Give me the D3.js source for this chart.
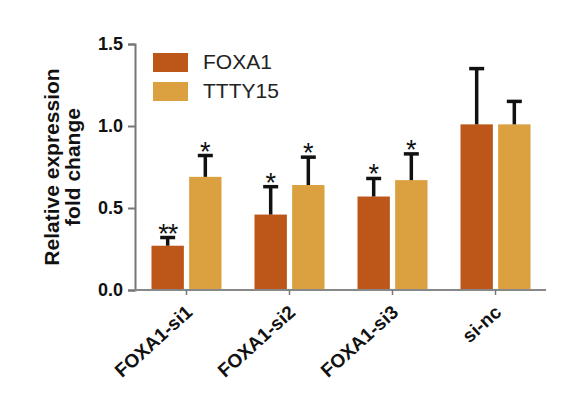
<!DOCTYPE html>
<html>
<head>
<meta charset="utf-8">
<script src="https://cdn.jsdelivr.net/npm/d3@7"></script>
<style>
  body { margin: 0; background: #fff; }
  svg { display: block; font-family: "Liberation Sans", Arial, sans-serif; }
</style>
</head>
<body>
<svg id="chart" width="569" height="397"></svg>
<script>
// data
const groups = ["FOXA1-si1", "FOXA1-si2", "FOXA1-si3", "si-nc"];
const series = ["FOXA1", "TTTY15"];
const foxa1Values = [0.27, 0.46, 0.57, 1.01];
const foxa1Errors = [0.05, 0.17, 0.11, 0.34];
const ttty15Values = [0.69, 0.64, 0.67, 1.01];
const ttty15Errors = [0.13, 0.17, 0.16, 0.14];
const foxa1Stars = ["**", "*", "*", ""];
const ttty15Stars = ["*", "*", "*", ""];
const yTicks = [0.0, 0.5, 1.0, 1.5];

const colors = { FOXA1: "#bd5719", TTTY15: "#dba040" };

let rows = [];
groups.forEach((g, i) => {
    rows.push({ group: g, key: "FOXA1", value: foxa1Values[i], err: foxa1Errors[i], star: foxa1Stars[i] });
    rows.push({ group: g, key: "TTTY15", value: ttty15Values[i], err: ttty15Errors[i], star: ttty15Stars[i] });
});

const svg = d3.select('#chart');

let x = d3.scaleBand().domain(groups).range([135, 547]);
let x1 = d3.scaleBand().domain(series).range([-35, 35]).paddingInner(0.14);
let y = d3.scaleLinear().domain([0, 1.5]).range([290, 44]);

let center = (g) => x(g) + x.bandwidth() / 2;

// bars
svg.append('g').selectAll('rect.bar').data(rows).join('rect')
    .classed('bar', true)
    .attr('x', d => center(d.group) + x1(d.key))
    .attr('y', d => y(d.value))
    .attr('width', x1.bandwidth())
    .attr('height', d => y(0) - y(d.value))
    .attr('fill', d => colors[d.key]);

// error bars (upper only) + significance stars
let errG = svg.append('g').attr('stroke', '#111').attr('stroke-width', 3.5);
rows.forEach(d => {
    let cx = center(d.group) + x1(d.key) + x1.bandwidth() / 2;
    let top = y(d.value + d.err);
    errG.append('line').attr('x1', cx).attr('x2', cx).attr('y1', y(d.value)).attr('y2', top);
    errG.append('line').attr('x1', cx - 7.5).attr('x2', cx + 7.5).attr('y1', top).attr('y2', top);
    if(d.star){
        svg.append('text')
            .attr('x', cx)
            .attr('y', top + 5)
            .attr('text-anchor', 'middle')
            .attr('font-size', 27)
            .attr('fill', '#111')
            .attr('letter-spacing', d.star.length > 1 ? -1 : 0)
            .text(d.star);
    }
});

// y axis
let yAxis = svg.append('g').attr('transform', 'translate(135,0)')
    .call(d3.axisLeft(y).tickValues(yTicks).tickFormat(d3.format('.1f')).tickSizeOuter(0).tickSize(7).tickPadding(5));
yAxis.select('.domain').attr('stroke', '#777').attr('stroke-width', 2);
yAxis.selectAll('.tick line').attr('stroke', '#777').attr('stroke-width', 2);
yAxis.selectAll('.tick text').attr('font-size', 18).attr('font-weight', 'bold').attr('fill', '#111')
    .attr('font-family', '"Liberation Sans", Arial, sans-serif');

// x axis
let xAxis = svg.append('g').attr('transform', 'translate(0,290)')
    .call(d3.axisBottom(x).tickSizeOuter(0).tickSize(5));
xAxis.select('.domain').attr('stroke', '#888').attr('stroke-width', 2).attr('d', 'M135,0H546');
xAxis.selectAll('.tick line').attr('stroke', '#777').attr('stroke-width', 1.5);
xAxis.selectAll('.tick text')
    .attr('font-size', 19).attr('font-weight', 'bold').attr('fill', '#111')
    .attr('font-family', '"Liberation Sans", Arial, sans-serif')
    .attr('text-anchor', 'end')
    .attr('dy', null)
    .attr('transform', 'translate(7,24) rotate(-42)')
    .attr('y', 0);

// y title
let title = svg.append('text')
    .attr('transform', `translate(0,${y(0.75)}) rotate(-90)`)
    .attr('text-anchor', 'middle')
    .attr('font-size', 21)
    .attr('font-weight', 'bold')
    .attr('fill', '#111');
title.append('tspan').attr('x', 0).attr('y', 59).text('Relative expression');
title.append('tspan').attr('x', 0).attr('y', 80).text('fold change');

// legend
let legend = svg.append('g').selectAll('g').data(series).join('g')
    .attr('transform', (d, i) => `translate(153,${53 + i * 29})`);
legend.append('rect').attr('width', 35).attr('height', 19).attr('fill', d => colors[d]);
legend.append('text').attr('x', 50).attr('y', 16).attr('font-size', 21).attr('fill', '#222').text(d => d);
</script>
</body>
</html>
